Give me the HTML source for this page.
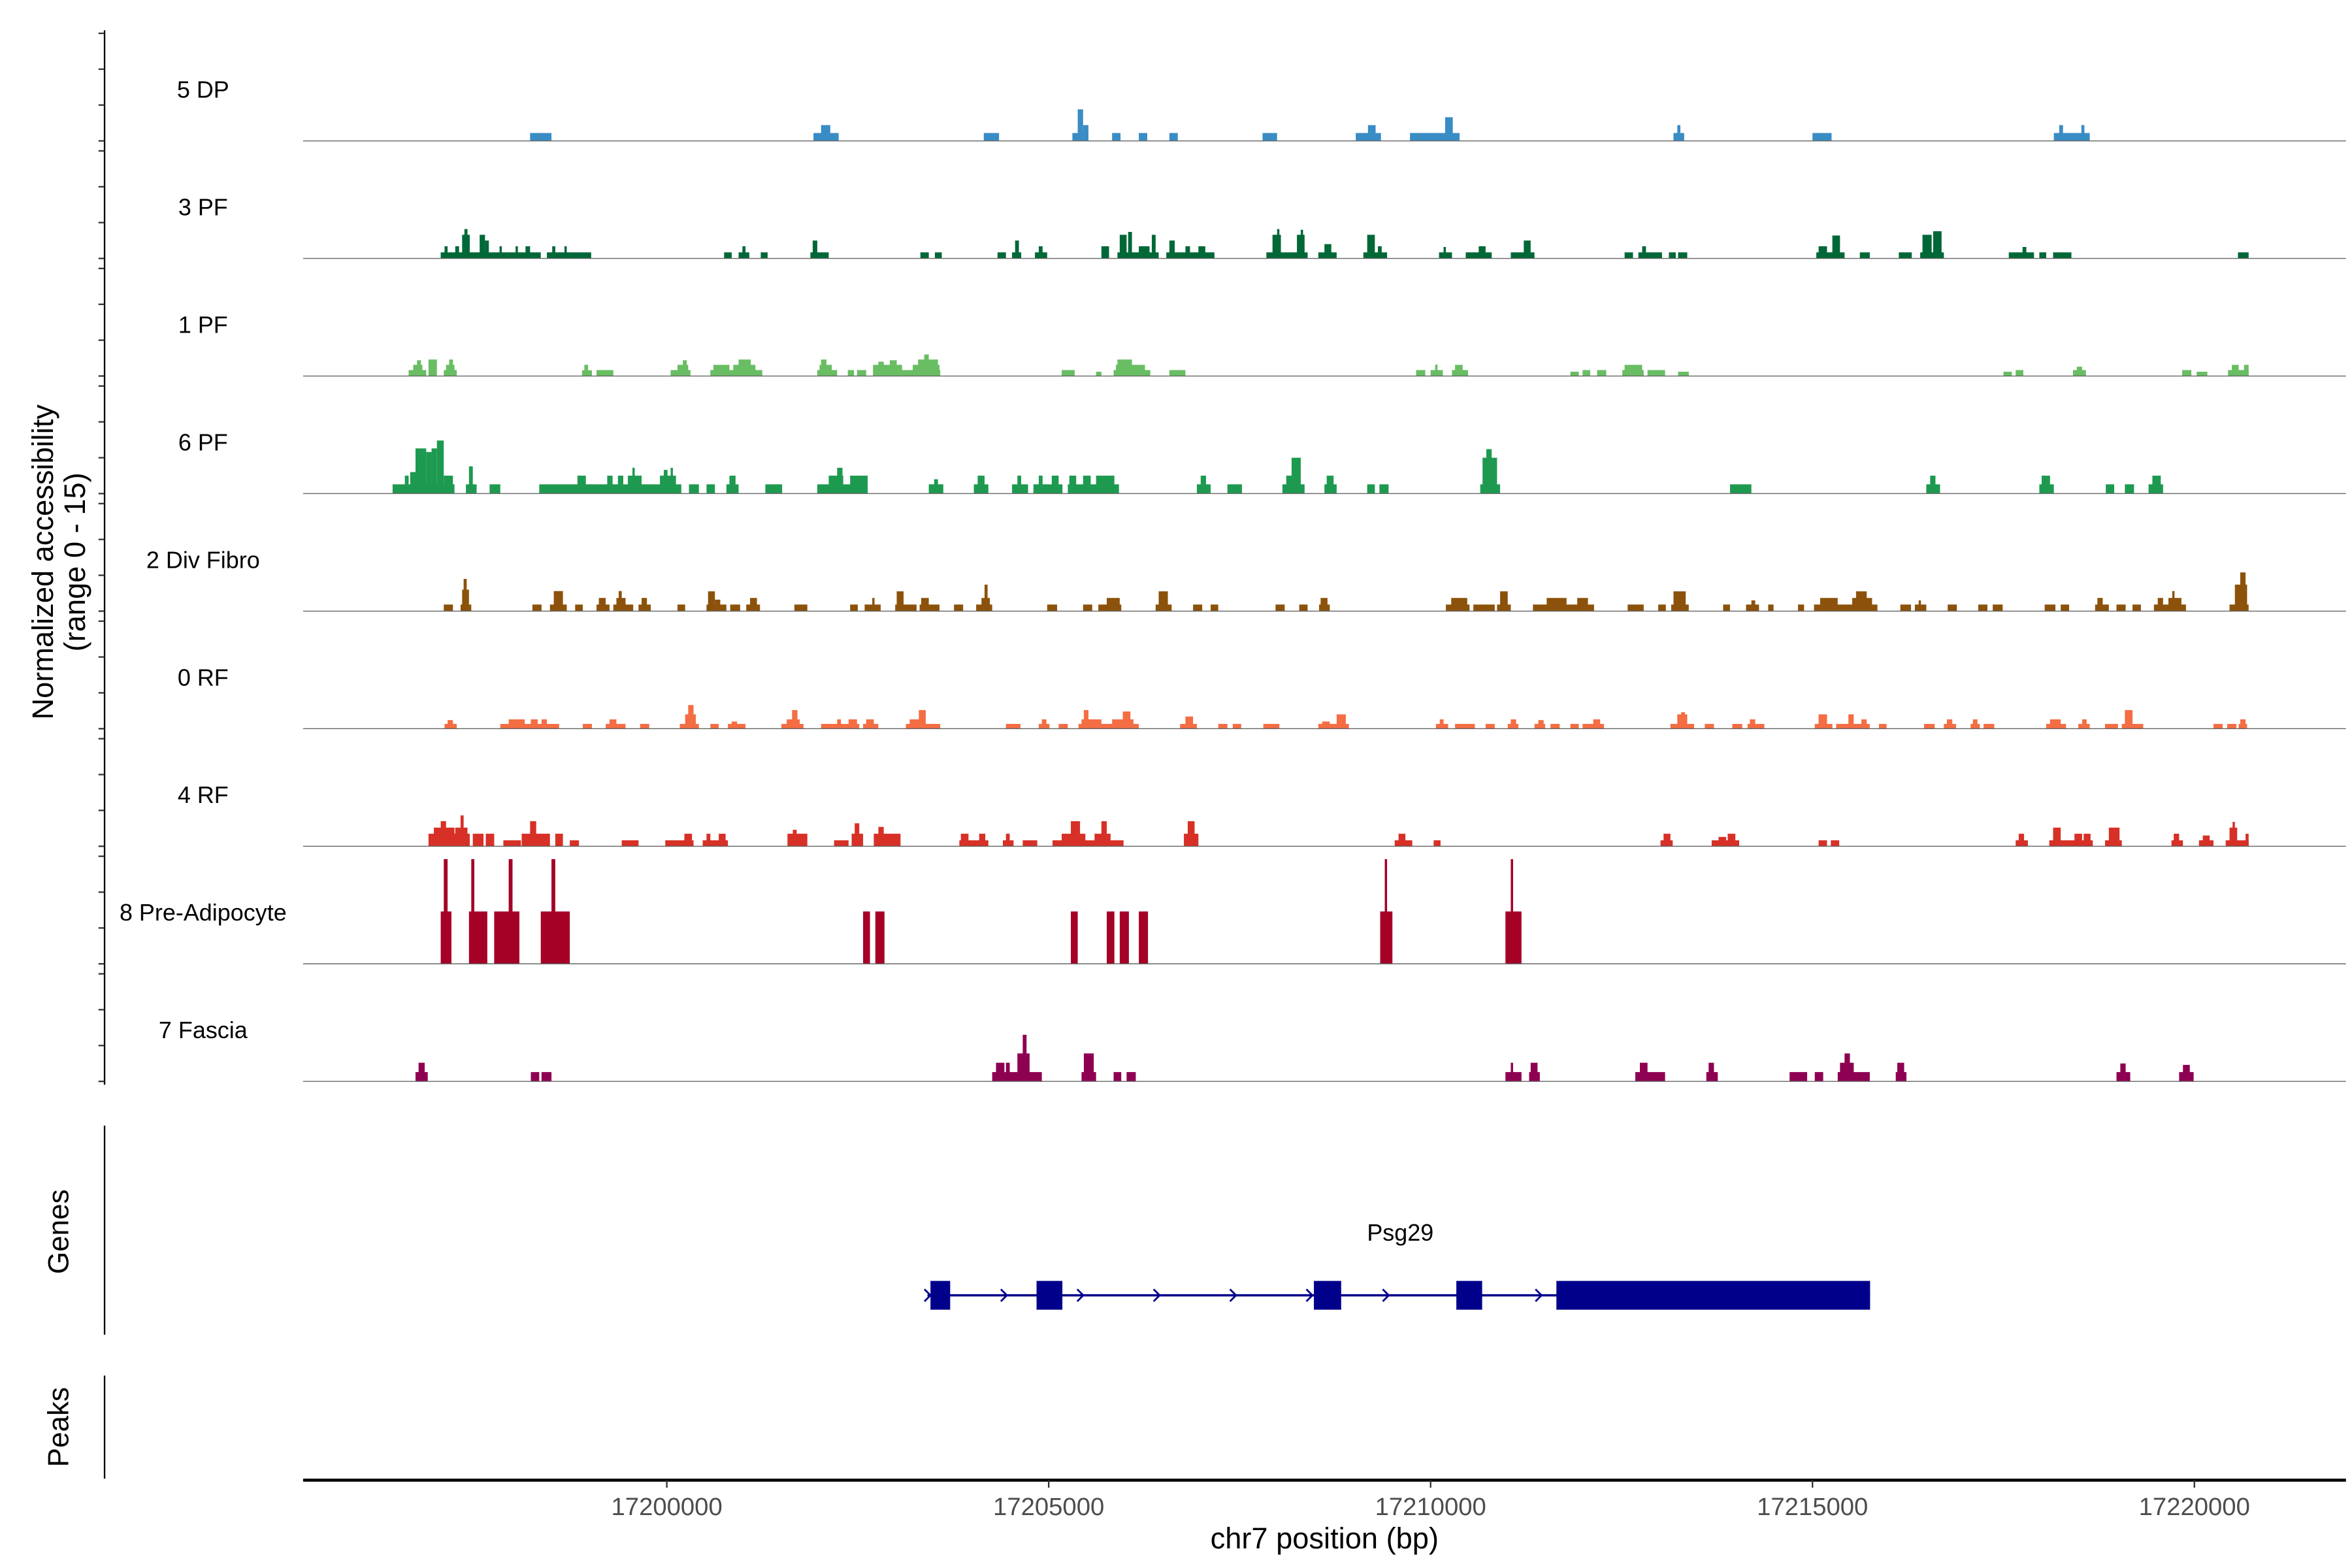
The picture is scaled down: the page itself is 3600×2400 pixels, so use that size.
<!DOCTYPE html>
<html><head><meta charset="utf-8"><style>
html,body{margin:0;padding:0;background:#fff;}
svg{display:block;}
text{font-family:"Liberation Sans",Arial,sans-serif;}
</style></head>
<body>
<svg id="chart" xmlns="http://www.w3.org/2000/svg" width="3600" height="2400" viewBox="0 0 1552 1035" preserveAspectRatio="none">
<g id="tracks"></g>
<g id="yaxis"></g>
<text transform="translate(35,371) rotate(-90)" text-anchor="middle" font-size="19.5">Normalized accessibility</text>
<text transform="translate(56,371) rotate(-90)" text-anchor="middle" font-size="19.5">(range 0 - 15)</text>
<line x1="69" y1="743" x2="69" y2="881" stroke="#000" stroke-width="1"/>
<text transform="translate(45,813) rotate(-90)" text-anchor="middle" font-size="19">Genes</text>
<line x1="69" y1="908" x2="69" y2="976" stroke="#000" stroke-width="1"/>
<text transform="translate(45,942) rotate(-90)" text-anchor="middle" font-size="19">Peaks</text>
<g id="genes"></g>
<g id="xaxis"></g>
<text x="874" y="1022" text-anchor="middle" font-size="19.5">chr7 position (bp)</text>
</svg>
<script>
// ---- data (genomic positions in kb, normalized accessibility heights) ----
const trackNames = ["5 DP","3 PF","1 PF","6 PF","2 Div Fibro","0 RF","4 RF","8 Pre-Adipocyte","7 Fascia"];
const trackColors = ["#3a8cc4","#006837","#69bd63","#1e9a50","#8c520b","#f46d43","#d73027","#a50026","#8e0152"];
const xTicks = [17200000,17205000,17210000,17215000,17220000];
const xTickLabels = ["17200000","17205000","17210000","17215000","17220000"];
const yTicks = [0,5,10,15];

const dp5 = [[17198.21,17198.49,1.1],[17201.92,17202.25,1.1],[17202.02,17202.14,2.2],[17204.15,17204.35,1.1],[17205.31,17205.52,1.1],[17205.38,17205.45,4.4],[17205.45,17205.52,2.2],[17205.83,17205.94,1.1],[17206.18,17206.29,1.1],[17206.58,17206.69,1.1],[17207.80,17207.99,1.1],[17209.02,17209.35,1.1],[17209.18,17209.28,2.2],[17209.73,17210.38,1.1],[17210.19,17210.29,3.3],[17213.18,17213.32,1.1],[17213.23,17213.27,2.2],[17215.00,17215.25,1.1],[17218.16,17218.63,1.1],[17218.23,17218.28,2.2],[17218.52,17218.56,2.2]];

const pf3 = [[17197.04,17198.35,0.85],[17198.43,17199.01,0.85],[17197.09,17197.13,1.7],[17197.23,17197.28,1.7],[17197.32,17197.42,3.3],[17197.35,17197.39,4.1],[17197.55,17197.62,3.3],[17197.62,17197.67,2.5],[17197.81,17197.84,1.7],[17198.02,17198.05,1.7],[17198.15,17198.21,1.7],[17198.50,17198.54,1.7],[17198.66,17198.69,1.7],
[17200.75,17200.85,0.85],[17200.94,17201.08,0.85],[17200.99,17201.03,1.7],[17201.23,17201.32,0.85],[17201.88,17202.12,0.85],[17201.91,17201.97,2.5],[17203.32,17203.43,0.85],[17203.51,17203.60,0.85],
[17204.33,17204.44,0.85],[17204.52,17204.64,0.85],[17204.56,17204.61,2.5],[17204.82,17204.98,0.85],[17204.87,17204.92,1.7],
[17205.69,17205.79,1.7],[17205.90,17206.44,0.85],[17205.93,17206.02,3.3],[17206.04,17206.09,3.7],[17206.18,17206.32,1.7],[17206.35,17206.40,3.3],
[17206.54,17207.17,0.85],[17206.58,17206.65,2.5],[17206.79,17206.85,1.7],[17206.96,17207.05,1.7],
[17207.85,17208.39,0.85],[17207.93,17208.04,3.3],[17207.99,17208.02,4.1],[17208.25,17208.35,3.3],[17208.30,17208.33,4.0],[17208.53,17208.77,0.85],[17208.61,17208.70,2.0],
[17209.12,17209.43,0.85],[17209.17,17209.27,3.3],[17209.31,17209.36,1.7],[17210.11,17210.28,0.85],[17210.17,17210.20,1.6],[17210.46,17210.80,0.85],[17210.63,17210.72,1.7],[17211.05,17211.36,0.85],[17211.22,17211.31,2.5],
[17212.54,17212.65,0.85],[17212.72,17213.03,0.85],[17212.77,17212.82,1.7],[17213.12,17213.21,0.85],[17213.24,17213.36,0.85],
[17215.05,17215.42,0.85],[17215.08,17215.19,1.7],[17215.26,17215.36,3.2],[17215.62,17215.75,0.85],[17216.13,17216.30,0.85],[17216.41,17216.72,0.85],[17216.44,17216.56,3.3],[17216.58,17216.69,3.8],
[17217.57,17217.90,0.85],[17217.75,17217.80,1.6],[17217.97,17218.06,0.85],[17218.15,17218.39,0.85],[17220.57,17220.71,0.85]];

const pf1 = [[17196.62,17196.85,0.83],[17196.68,17196.80,1.56],[17196.73,17196.78,2.2],[17196.88,17196.99,2.3],[17197.08,17197.25,0.83],[17197.11,17197.22,1.56],[17197.15,17197.20,2.3],
[17198.89,17199.02,0.8],[17198.92,17198.97,1.56],[17199.08,17199.30,0.83],[17200.05,17200.31,0.83],[17200.14,17200.28,1.56],[17200.21,17200.26,2.2],
[17200.57,17201.25,0.83],[17200.61,17200.82,1.56],[17200.87,17201.16,1.56],[17200.94,17201.10,2.3],[17201.97,17202.23,0.83],[17202.00,17202.16,1.56],[17202.02,17202.09,2.3],
[17202.37,17202.45,0.83],[17202.49,17202.61,0.83],[17202.70,17203.58,0.83],[17202.70,17203.08,1.56],[17202.77,17202.84,2.0],[17202.92,17203.01,2.2],[17203.22,17203.57,1.56],[17203.29,17203.55,2.3],[17203.37,17203.43,3.0],
[17205.17,17205.34,0.83],[17205.62,17205.69,0.6],[17205.85,17206.33,0.83],[17205.88,17206.26,1.56],[17205.90,17206.09,2.3],[17206.58,17206.79,0.83],
[17209.81,17209.93,0.83],[17210.00,17210.16,0.83],[17210.06,17210.09,1.6],[17210.28,17210.49,0.83],[17210.32,17210.42,1.56],
[17211.83,17211.94,0.6],[17211.99,17212.09,0.83],[17212.18,17212.30,0.83],[17212.51,17212.79,0.83],[17212.54,17212.77,1.56],[17212.84,17213.07,0.83],[17213.24,17213.38,0.6],
[17217.50,17217.61,0.6],[17217.66,17217.76,0.83],[17218.41,17218.58,0.83],[17218.46,17218.53,1.3],[17219.84,17219.96,0.83],[17220.03,17220.17,0.6],[17220.44,17220.71,0.83],[17220.49,17220.58,1.56],[17220.65,17220.71,1.56]];

const pf6 = [[17196.41,17197.22,1.29],[17196.57,17196.62,2.5],[17196.64,17196.71,3.0],[17196.71,17196.85,6.3],[17196.85,17196.92,5.8],[17196.92,17196.99,6.3],[17196.99,17197.08,7.4],[17197.08,17197.20,2.5],
[17197.37,17197.51,1.29],[17197.41,17197.46,3.8],[17197.68,17197.82,1.29],[17198.33,17200.19,1.29],[17198.83,17198.94,2.5],[17199.22,17199.29,2.5],[17199.36,17199.43,2.5],[17199.49,17199.67,2.5],[17199.55,17199.58,3.6],[17199.91,17200.12,2.5],[17199.96,17200.01,3.3],[17200.05,17200.08,3.6],
[17200.29,17200.42,1.29],[17200.52,17200.63,1.29],[17200.78,17200.94,1.29],[17200.82,17200.90,2.5],[17201.29,17201.51,1.29],[17201.97,17202.63,1.29],[17202.12,17202.31,2.5],[17202.23,17202.30,3.6],[17202.40,17202.63,2.5],
[17203.43,17203.62,1.29],[17203.50,17203.55,2.0],[17204.02,17204.21,1.29],[17204.07,17204.16,2.5],[17204.52,17204.73,1.29],[17204.59,17204.64,2.5],[17204.80,17205.18,1.29],[17204.87,17204.92,2.5],[17205.04,17205.13,2.5],
[17205.25,17205.92,1.29],[17205.27,17205.36,2.5],[17205.45,17205.55,2.5],[17205.62,17205.86,2.5],[17206.94,17207.12,1.29],[17206.99,17207.06,2.5],[17207.34,17207.53,1.29],
[17208.06,17208.35,1.29],[17208.11,17208.22,2.5],[17208.18,17208.30,5.0],[17208.61,17208.77,1.29],[17208.64,17208.73,2.5],[17209.17,17209.27,1.29],[17209.33,17209.45,1.29],
[17210.65,17210.91,1.29],[17210.68,17210.87,5.0],[17210.73,17210.80,6.2],[17213.92,17214.20,1.29],[17216.49,17216.67,1.29],[17216.54,17216.61,2.5],[17217.97,17218.16,1.29],[17218.00,17218.11,2.5],
[17218.84,17218.95,1.29],[17219.09,17219.21,1.29],[17219.40,17219.59,1.29],[17219.45,17219.56,2.5]];

const divFibro = [[17197.08,17197.20,0.92],[17197.30,17197.44,0.92],[17197.32,17197.41,3.0],[17197.34,17197.38,4.5],[17198.24,17198.36,0.92],[17198.47,17198.69,0.92],[17198.52,17198.64,2.8],[17198.80,17198.90,0.92],
[17199.08,17199.25,0.92],[17199.11,17199.20,1.84],[17199.30,17199.56,0.92],[17199.34,17199.46,1.84],[17199.37,17199.41,2.8],[17199.63,17199.79,0.92],[17199.67,17199.74,1.84],[17200.14,17200.24,0.92],
[17200.52,17200.78,0.92],[17200.54,17200.63,2.76],[17200.63,17200.70,1.6],[17200.83,17200.96,0.92],[17201.04,17201.22,0.92],[17201.09,17201.18,1.84],[17201.67,17201.84,0.92],
[17202.40,17202.50,0.92],[17202.59,17202.80,0.92],[17202.69,17202.72,1.84],[17202.99,17203.27,0.92],[17203.01,17203.10,2.76],[17203.31,17203.57,0.92],[17203.33,17203.43,1.84],[17203.76,17203.88,0.92],
[17204.05,17204.26,0.92],[17204.12,17204.23,1.84],[17204.16,17204.20,3.7],[17204.98,17205.11,0.92],[17205.45,17205.57,0.92],[17205.65,17205.95,0.92],[17205.76,17205.93,1.84],[17206.40,17206.61,0.92],[17206.44,17206.56,2.76],
[17206.89,17207.01,0.92],[17207.12,17207.22,0.92],[17207.97,17208.09,0.92],[17208.28,17208.39,0.92],[17208.54,17208.68,0.92],[17208.56,17208.65,1.84],
[17210.20,17210.51,0.92],[17210.27,17210.48,1.84],[17210.56,17210.84,0.92],[17210.87,17211.05,0.92],[17210.91,17211.01,2.76],[17211.34,17212.14,0.92],[17211.52,17211.78,1.84],[17211.92,17212.06,1.84],
[17212.58,17212.79,0.92],[17212.98,17213.08,0.92],[17213.15,17213.38,0.92],[17213.18,17213.34,2.76],[17213.83,17213.92,0.92],[17214.13,17214.30,0.92],[17214.20,17214.25,1.5],[17214.42,17214.49,0.92],[17214.81,17214.89,0.92],
[17215.02,17215.85,0.92],[17215.10,17215.33,1.84],[17215.52,17215.78,1.84],[17215.57,17215.71,2.76],[17216.15,17216.29,0.92],[17216.34,17216.49,0.92],[17216.39,17216.42,1.5],[17216.77,17216.89,0.92],[17217.17,17217.29,0.92],[17217.36,17217.49,0.92],
[17218.04,17218.18,0.92],[17218.25,17218.36,0.92],[17218.70,17218.88,0.92],[17218.73,17218.80,1.84],[17218.98,17219.10,0.92],[17219.19,17219.30,0.92],[17219.47,17219.89,0.92],[17219.52,17219.59,1.84],[17219.66,17219.83,1.84],[17219.71,17219.74,2.8],
[17220.46,17220.71,0.92],[17220.53,17220.69,3.7],[17220.60,17220.67,5.4]];

const rf0 = [[17197.09,17197.25,0.67],[17197.13,17197.20,1.2],[17197.82,17198.59,0.67],[17197.93,17198.14,1.3],[17198.22,17198.31,1.3],[17198.36,17198.43,1.3],[17198.90,17199.02,0.67],[17199.20,17199.46,0.67],[17199.25,17199.34,1.3],[17199.65,17199.77,0.67],
[17200.17,17200.42,0.67],[17200.24,17200.38,2.0],[17200.28,17200.35,3.3],[17200.57,17200.68,0.67],[17200.80,17201.03,0.67],[17200.85,17200.92,1.0],[17201.50,17201.79,0.67],[17201.57,17201.74,1.3],[17201.64,17201.71,2.6],
[17202.02,17202.16,0.67],[17202.16,17202.52,0.67],[17202.23,17202.28,1.3],[17202.38,17202.49,1.3],[17202.57,17202.77,0.67],[17202.61,17202.71,1.3],[17203.13,17203.58,0.67],[17203.18,17203.37,1.3],[17203.30,17203.39,2.6],
[17204.44,17204.63,0.67],[17204.87,17205.01,0.67],[17204.91,17204.97,1.3],[17205.13,17205.25,0.67],[17205.39,17206.18,0.67],[17205.43,17205.69,1.3],[17205.46,17205.52,2.6],[17205.83,17206.11,1.3],[17205.97,17206.07,2.4],
[17206.72,17206.94,0.67],[17206.79,17206.89,1.7],[17207.22,17207.34,0.67],[17207.41,17207.52,0.67],[17207.81,17208.02,0.67],[17208.53,17208.93,0.67],[17208.58,17208.68,1.0],[17208.77,17208.89,2.0],
[17210.07,17210.23,0.67],[17210.12,17210.17,1.3],[17210.32,17210.58,0.67],[17210.72,17210.84,0.67],[17211.01,17211.15,0.67],[17211.05,17211.12,1.3],[17211.36,17211.50,0.67],[17211.41,17211.48,1.2],[17211.57,17211.69,0.67],[17211.83,17211.94,0.67],[17211.99,17212.27,0.67],[17212.13,17212.22,1.3],
[17213.14,17213.45,0.67],[17213.23,17213.36,2.0],[17213.28,17213.33,2.3],[17213.59,17213.71,0.67],[17213.95,17214.08,0.67],[17214.15,17214.37,0.67],[17214.18,17214.25,1.3],
[17215.03,17215.26,0.67],[17215.08,17215.19,2.0],[17215.31,17215.75,0.67],[17215.47,17215.54,2.0],[17215.64,17215.71,1.3],[17215.87,17215.97,0.67],
[17216.46,17216.60,0.67],[17216.72,17216.88,0.67],[17216.76,17216.83,1.3],[17217.07,17217.19,0.67],[17217.10,17217.16,1.3],[17217.24,17217.38,0.67],
[17218.06,17218.32,0.67],[17218.11,17218.25,1.3],[17218.48,17218.63,0.67],[17218.53,17218.59,1.3],[17218.83,17219.00,0.67],[17219.05,17219.33,0.67],[17219.09,17219.19,2.6],
[17220.25,17220.37,0.67],[17220.43,17220.55,0.67],[17220.58,17220.69,0.67],[17220.60,17220.67,1.3]];

const rf4 = [[17196.88,17197.42,1.75],[17196.95,17197.22,2.6],[17197.04,17197.11,3.5],[17197.23,17197.39,2.6],[17197.30,17197.34,4.3],[17197.46,17197.60,1.75],[17197.63,17197.74,1.75],
[17197.86,17198.09,0.83],[17198.10,17198.47,1.75],[17198.21,17198.29,3.5],[17198.54,17198.64,1.75],[17198.73,17198.85,0.83],[17199.41,17199.63,0.83],
[17199.98,17200.35,0.83],[17200.23,17200.33,1.75],[17200.47,17200.80,0.83],[17200.52,17200.57,1.75],[17200.68,17200.77,1.75],[17201.58,17201.84,1.75],[17201.65,17201.70,2.3],
[17202.19,17202.38,0.83],[17202.42,17202.57,1.75],[17202.46,17202.52,3.2],[17202.71,17203.06,1.75],[17202.77,17202.84,2.7],[17203.83,17204.21,0.83],[17203.85,17203.95,1.75],[17204.09,17204.17,1.75],
[17204.40,17204.54,0.83],[17204.44,17204.49,1.75],[17204.66,17204.85,0.83],[17205.05,17205.98,0.83],[17205.17,17205.48,1.75],[17205.29,17205.41,3.5],[17205.60,17205.81,1.75],[17205.69,17205.76,3.5],
[17206.77,17206.96,1.75],[17206.82,17206.91,3.5],[17209.53,17209.76,0.83],[17209.58,17209.67,1.75],[17210.04,17210.13,0.83],
[17213.01,17213.17,0.83],[17213.05,17213.14,1.75],[17213.68,17214.04,0.83],[17213.77,17213.87,1.3],[17213.89,17213.99,1.75],[17215.08,17215.19,0.83],[17215.24,17215.35,0.83],
[17217.66,17217.82,0.83],[17217.70,17217.77,1.75],[17218.10,17218.67,0.83],[17218.15,17218.25,2.6],[17218.43,17218.53,1.75],[17218.55,17218.64,1.75],[17218.83,17219.05,0.83],[17218.88,17219.02,2.6],
[17219.70,17219.85,0.83],[17219.73,17219.80,1.75],[17220.06,17220.25,0.83],[17220.11,17220.20,1.5],[17220.41,17220.71,0.83],[17220.46,17220.56,2.6],[17220.50,17220.53,3.4],[17220.67,17220.71,1.75]];

const preAdipo = [[17197.04,17197.18,7.3],[17197.08,17197.13,14.6],[17197.41,17197.65,7.3],[17197.44,17197.48,14.6],[17197.74,17198.07,7.3],[17197.93,17197.98,14.6],[17198.35,17198.73,7.3],[17198.49,17198.54,14.6],
[17202.57,17202.66,7.3],[17202.73,17202.85,7.3],[17205.29,17205.38,7.3],[17205.76,17205.86,7.3],[17205.93,17206.05,7.3],[17206.18,17206.30,7.3],
[17209.34,17209.50,7.3],[17209.40,17209.43,14.6],[17210.98,17211.19,7.3],[17211.05,17211.08,14.6]];

const fascia = [[17196.71,17196.87,1.3],[17196.75,17196.83,2.6],[17198.22,17198.33,1.3],[17198.36,17198.49,1.3],[17204.26,17204.91,1.3],[17204.31,17204.42,2.6],[17204.44,17204.49,2.6],[17204.59,17204.75,3.9],[17204.66,17204.71,6.5],
[17205.43,17205.62,1.3],[17205.46,17205.59,3.9],[17205.85,17205.95,1.3],[17206.02,17206.14,1.3],[17210.98,17211.19,1.3],[17211.05,17211.08,2.6],[17211.29,17211.43,1.3],[17211.31,17211.40,2.6],
[17212.68,17213.07,1.3],[17212.74,17212.84,2.6],[17213.61,17213.76,1.3],[17213.64,17213.71,2.6],[17214.70,17214.93,1.3],[17215.03,17215.14,1.3],[17215.33,17215.75,1.3],[17215.36,17215.54,2.6],[17215.42,17215.49,3.9],
[17216.09,17216.23,1.3],[17216.11,17216.20,2.6],[17218.98,17219.16,1.3],[17219.03,17219.10,2.5],[17219.80,17219.99,1.3],[17219.85,17219.94,2.3]];

const trackData = [dp5, pf3, pf1, pf6, divFibro, rf0, rf4, preAdipo, fascia];

// gene model (bp)
const geneName = "Psg29";
const geneStart = 17203413, geneEnd = 17215754;
const exonStarts = [17203452,17204841,17208472,17210337,17211647];
const exonEnds   = [17203710,17205179,17208829,17210675,17215754];
const arrowSpacing = 1000;

// ---- scales ----
const NS = "http://www.w3.org/2000/svg";
const X0 = 440, PX_PER_BP = 252/5000;
function xs(bp){ return X0 + (bp - 17200000) * PX_PER_BP; }
const firstBase = 93, trackStep = 77.6, trackH = 71, yMax = 15;
function baseY(i){ return firstBase + i * trackStep; }
function ys(v){ return v * trackH / yMax; }
function mk(tag, attrs, parent){ const e=document.createElementNS(NS,tag); for(const k in attrs) e.setAttribute(k,attrs[k]); parent.appendChild(e); return e; }

const tracksG = document.getElementById('tracks');
const yG = document.getElementById('yaxis');
const xmin = 200, xmax = 1548;

const yl = mk('line',{x1:69,y1:20,x2:69,y2:716,stroke:'#000','stroke-width':1},yG);



trackData.forEach((arr, i) => {
  const b = baseY(i);
  const g = mk('g',{},tracksG);
  
  
  arr.forEach(d => {
    const x1 = xs(d[0]*1000), x2 = xs(d[1]*1000);
    const h = ys(d[2]);
    const r = mk('rect',{x:x1,y:b-h,width:Math.max(x2-x1,0.7),height:h,fill:trackColors[i]},g);
    
    
  });
  const bl = mk('line',{x1:xmin,y1:b,x2:xmax,y2:b,stroke:'#666','stroke-width':0.6},g);
  
  
  const lab = mk('text',{x:134,y:b-28.5,'text-anchor':'middle','font-size':15.5,fill:'#000'},g);
  lab.textContent = trackNames[i];
  
  
  yTicks.forEach(t => {
    const ty = b - ys(t);
    const tk = mk('line',{x1:65,y1:ty,x2:69,y2:ty,stroke:'#333','stroke-width':1},yG);
    
    
  });
});

// gene track
const gg = document.getElementById('genes');
const gy = 855, eh = 19;
const gl = mk('line',{x1:xs(geneStart),y1:gy,x2:xs(geneEnd),y2:gy,stroke:'#00008b','stroke-width':1.5},gg);


for (let p = geneStart; p < geneEnd; p += arrowSpacing) {
  const ax = xs(p);
  const a = mk('polyline',{points:`${ax-2},${gy-4} ${ax+2},${gy} ${ax-2},${gy+4}`,fill:'none',stroke:'#00008b','stroke-width':1.2},gg);
  
  
}
exonStarts.forEach((s, k) => {
  const r = mk('rect',{x:xs(s),y:gy-eh/2,width:xs(exonEnds[k])-xs(s),height:eh,fill:'#00008b'},gg);
  
  
});
const gt = mk('text',{x:924,y:819,'text-anchor':'middle','font-size':15.5},gg);
gt.textContent = geneName;



// x axis
const xg = document.getElementById('xaxis');
const xl = mk('line',{x1:xmin,y1:977,x2:xmax,y2:977,stroke:'#000','stroke-width':2},xg);


xTicks.forEach((t, k) => {
  const tx = xs(t);
  const tk = mk('line',{x1:tx,y1:977,x2:tx,y2:982,stroke:'#333','stroke-width':1},xg);
  
  
  const tl = mk('text',{x:tx,y:1000,'text-anchor':'middle','font-size':16.5,fill:'#4d4d4d'},xg);
  tl.textContent = xTickLabels[k];
  
  
});
</script>
</body></html>
